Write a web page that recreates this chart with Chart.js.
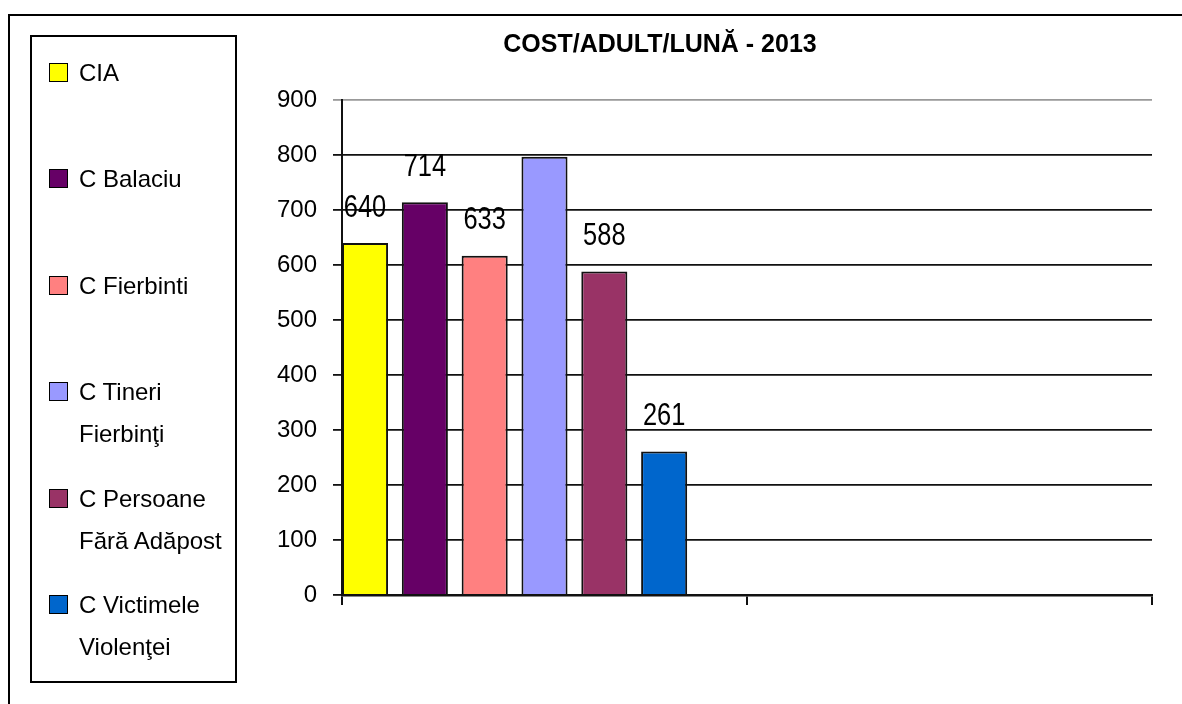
<!DOCTYPE html>
<html lang="ro">
<head>
    <meta charset="UTF-8">
    <title>Cost/adult/lună - 2013</title>
    <script src="https://cdn.jsdelivr.net/npm/chart.js"></script>
    <style>
        html, body {
            margin: 0;
            padding: 0;
            width: 1182px;
            height: 704px;
            overflow: hidden;
            background: #fff;
            font-family: "Liberation Sans", Arial, sans-serif;
        }
        #frame {
            position: absolute;
            left: 8px;
            top: 14px;
            width: 1302px;
            height: 720px;
            border-left: 2px solid #000;
            border-top: 2px solid #000;
        }
        #chartCanvas {
            position: absolute;
            left: 0;
            top: 0;
        }
        #legend {
            position: absolute;
            left: 20px;
            top: 19px;
            width: 207px;
            height: 648px;
            border: 2px solid #000;
            box-sizing: border-box;
            padding-top: 15px;
        }
        .item {
            position: relative;
            height: 106.4px;
            padding-left: 47px;
            font-size: 24px;
            line-height: 42px;
            color: #000;
        }
        .item .box {
            position: absolute;
            left: 17px;
            top: 11px;
            width: 17px;
            height: 17px;
            border: 1.5px solid #000;
        }
        .item .txt {
            display: block;
            width: 152px;
        }
    </style>
</head>
<body>
    <div id="frame">
        <canvas id="chartCanvas" width="1300" height="688"></canvas>
        <div id="legend"></div>
    </div>

    <script>
        // date
        const titleText = 'COST/ADULT/LUNĂ - 2013';
        const categories = ['', ''];
        const centre = ['CIA', 'C Balaciu', 'C Fierbinti', 'C Tineri Fierbinţi', 'C Persoane Fără Adăpost', 'C Victimele Violenţei'];
        const costuri = [640, 714, 617, 797, 588, 261];
        const etichete = ['640', '714', '633', '', '588', '261'];
        const culori = ['#FFFF00', '#660066', '#FF8080', '#9999FF', '#993366', '#0066CC'];
        const yTicks = [0, 100, 200, 300, 400, 500, 600, 700, 800, 900];

        const datasets = centre.map((nume, i) => ({
            label: nume,
            data: [costuri[i], null],
            backgroundColor: culori[i],
            borderColor: '#111',
            borderWidth: 2
        }));
        // loc gol la dreapta grupului (ca in original)
        datasets.push({ label: '', data: [null, null] });

        // etichetele cu valori deasupra barelor (font ingustat)
        const valoriPlugin = {
            id: 'valori',
            afterDatasetsDraw(chart) {
                const ctx = chart.ctx;
                etichete.forEach((txt, i) => {
                    const bar = chart.getDatasetMeta(i).data[0];
                    if (!txt || !bar) return;
                    ctx.save();
                    ctx.translate(bar.x, bar.y - 35);
                    ctx.scale(0.82, 1);
                    ctx.font = '31px "Liberation Sans", Arial, sans-serif';
                    ctx.fillStyle = '#000';
                    ctx.textAlign = 'center';
                    ctx.textBaseline = 'middle';
                    ctx.fillText(txt, 0, 0);
                    ctx.restore();
                });
            }
        };

        // titlul, centrat pe tot cadrul
        const titluPlugin = {
            id: 'titlu',
            afterDraw(chart) {
                const ctx = chart.ctx;
                ctx.save();
                ctx.font = 'bold 25px "Liberation Sans", Arial, sans-serif';
                ctx.fillStyle = '#000';
                ctx.textAlign = 'center';
                ctx.textBaseline = 'middle';
                ctx.fillText(titleText, chart.width / 2, 29);
                ctx.restore();
            }
        };

        const ctx = document.getElementById('chartCanvas').getContext('2d');
        const chart = new Chart(ctx, {
            type: 'bar',
            data: { labels: categories, datasets: datasets },
            options: {
                responsive: false,
                animation: false,
                devicePixelRatio: 1,
                categoryPercentage: 1.034,
                barPercentage: 0.77,
                layout: {
                    padding: { top: 84, left: 225, right: 158, bottom: 79 }
                },
                plugins: {
                    legend: { display: false },
                    title: { display: false },
                    tooltip: { enabled: false }
                },
                scales: {
                    x: {
                        grid: {
                            offset: true,
                            drawOnChartArea: false,
                            color: '#111',
                            lineWidth: 2,
                            tickLength: 10
                        },
                        border: { color: '#111', width: 2.5 },
                        ticks: { display: false },
                        afterFit(scale) { scale.height = 30; }
                    },
                    y: {
                        min: 0,
                        max: 900,
                        afterBuildTicks(scale) {
                            scale.ticks = yTicks.map(v => ({ value: v }));
                        },
                        grid: {
                            color: (c) => c.tick && c.tick.value === 900 ? '#999' : '#111',
                            lineWidth: 1.8,
                            tickLength: 9
                        },
                        border: { color: '#111', width: 2 },
                        ticks: {
                            color: '#000',
                            padding: 16,
                            font: { family: '"Liberation Sans", Arial, sans-serif', size: 24 }
                        },
                        afterFit(scale) { scale.width = 107; }
                    }
                }
            },
            plugins: [valoriPlugin, titluPlugin]
        });

        // legenda HTML construita din seriile graficului
        const legend = document.getElementById('legend');
        chart.data.datasets.forEach(ds => {
            if (!ds.label) return;
            const item = document.createElement('div');
            item.className = 'item';
            const box = document.createElement('span');
            box.className = 'box';
            box.style.background = ds.backgroundColor;
            const txt = document.createElement('span');
            txt.className = 'txt';
            txt.textContent = ds.label;
            item.appendChild(box);
            item.appendChild(txt);
            legend.appendChild(item);
        });
    </script>
</body>
</html>
